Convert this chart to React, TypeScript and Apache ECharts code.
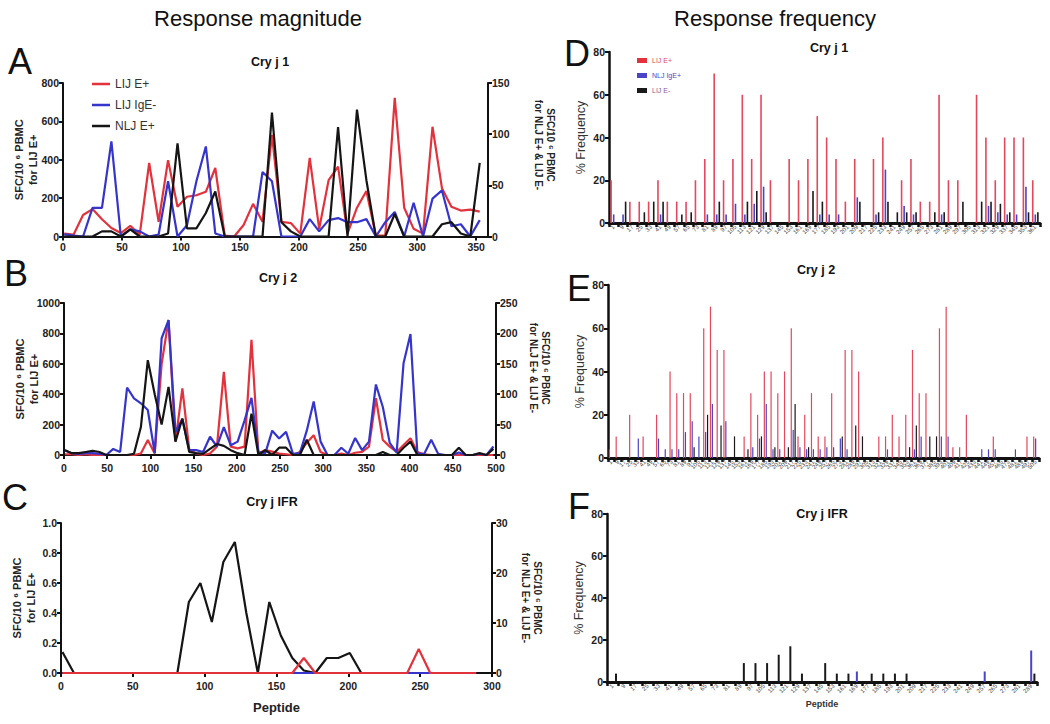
import React, { useEffect, useRef } from "react";
import * as echarts from "echarts";

const FONT = "'Liberation Sans', Arial, Helvetica, sans-serif";
const RED = "#e2323c";
const BLUE = "#3535cc";
const BLACK = "#151515";
const BAR_RED = "#e2485e";
const BAR_BLUE = "#4a44c8";
const BAR_BLACK = "#1a1a1a";

// ---------- Panel A (Cry j 1 magnitude) ----------
const pepA = [1, 9, 17, 25, 33, 41, 49, 57, 65, 73, 81, 89, 97, 105, 113, 121, 129, 137, 145, 153, 161, 169, 177, 185, 193, 201, 209, 217, 225, 233, 241, 249, 257, 265, 273, 281, 289, 297, 305, 313, 321, 329, 337, 345, 353];
const aLijE = [15, 10, 112, 143, 90, 44, 18, 56, 10, 383, 77, 398, 155, 207, 215, 233, 357, 5, 0, 60, 170, 77, 530, 77, 70, 15, 410, 40, 294, 364, 15, 150, 237, 5, 5, 723, 150, 40, 15, 572, 252, 155, 135, 140, 130];
const aLijIgE = [2, 1, 0, 28, 28, 93, 0, 7, 5, 0, 2, 54, 0, 11, 54, 88, 3, 0, 0, 0, 0, 63, 54, 0, 0, 0, 17, 5, 16, 18, 14, 14, 17, 0, 14, 24, 0, 33, 0, 37, 45, 10, 12, 0, 16];
const aNljE = [0, 0, 0, 0, 5, 5, 0, 7, 0, 0, 0, 3, 91, 8, 8, 23, 44, 0, 0, 0, 0, 0, 121, 14, 5, 0, 0, 0, 0, 107, 0, 124, 55, 0, 0, 22, 0, 0, 0, 0, 12, 14, 3, 0, 72];

// ---------- Panel B (Cry j 2 magnitude) ----------
const pepB = [1, 9, 17, 25, 33, 41, 49, 57, 65, 73, 81, 89, 97, 105, 113, 121, 129, 137, 145, 153, 161, 169, 177, 185, 193, 201, 209, 217, 225, 233, 241, 249, 257, 265, 273, 281, 289, 297, 305, 313, 321, 329, 337, 345, 353, 361, 369, 377, 385, 393, 401, 409, 417, 425, 433, 441, 449, 457, 465, 473, 481, 489, 497];
const bLijE = [5, 5, 0, 5, 0, 0, 0, 0, 0, 0, 0, 10, 99, 10, 600, 888, 88, 439, 33, 10, 0, 10, 55, 547, 55, 44, 55, 757, 10, 33, 22, 10, 5, 0, 20, 80, 130, 20, 0, 0, 10, 0, 15, 20, 55, 373, 99, 55, 20, 66, 110, 20, 5, 0, 0, 0, 0, 0, 0, 0, 0, 0, 0];
const bLijIgE = [8, 3, 2, 3, 3, 2, 0, 10, 5, 111, 93, 85, 74, 3, 192, 222, 38, 59, 8, 8, 5, 30, 14, 46, 16, 22, 57, 94, 5, 3, 40, 27, 38, 2, 3, 40, 88, 22, 0, 0, 12, 2, 28, 8, 22, 116, 79, 20, 4, 151, 199, 2, 2, 25, 2, 0, 0, 4, 0, 0, 2, 0, 14];
const bNljE = [8, 3, 3, 5, 7, 5, 0, 0, 0, 0, 2, 46, 156, 100, 50, 112, 22, 60, 5, 3, 2, 10, 18, 15, 8, 3, 0, 68, 0, 8, 0, 12, 12, 0, 0, 25, 0, 0, 0, 0, 0, 0, 0, 0, 0, 0, 5, 0, 0, 12, 22, 0, 0, 0, 0, 0, 0, 12, 0, 0, 3, 0, 10];

// ---------- Panel C (Cry j IFR magnitude) ----------
const pepC = [1, 9, 17, 25, 33, 41, 49, 57, 65, 73, 81, 89, 97, 105, 113, 121, 129, 137, 145, 153, 161, 169, 177, 185, 193, 201, 209, 217, 225, 233, 241, 249, 257, 265, 273, 281, 289];
const cLijE = [0, 0, 0, 0, 0, 0, 0, 0, 0, 0, 0, 0, 0, 0, 0, 0, 0, 0, 0, 0, 0, 0.1, 0, 0, 0, 0, 0, 0, 0, 0, 0, 0.16, 0, 0, 0, 0, 0];
const cLijIgE = [0, 0, 0, 0, 0, 0, 0, 0, 0, 0, 0, 0, 0, 0, 0, 0, 0, 0, 0, 0, 0, 0, 0, 0, 0, 0, 0, 0, 0, 0, 0, 0, 0, 0, 0, 0, 0];
const cNljE = [4.2, 0, 0, 0, 0, 0, 0, 0, 0, 0, 0, 14.2, 18, 10.2, 22.2, 26.2, 12, 0, 14.2, 7.5, 3, 0.5, 0, 3, 3, 4, 0, 0, 0, 0, 0, 0, 0, 0, 0, 0, 0];

// ---------- Panel D (Cry j 1 frequency) ----------
const catD = ["1", "9", "17", "25", "33", "41", "49", "57", "65", "73", "81", "89", "97", "105", "113", "121", "129", "137", "145", "153", "161", "169", "177", "185", "193", "201", "209", "217", "225", "233", "241", "249", "257", "265", "273", "281", "289", "297", "305", "313", "321", "329", "337", "345", "353", "361"];
const dLijE = [20, 0, 10, 10, 10, 20, 10, 10, 10, 20, 30, 70, 20, 30, 60, 30, 60, 20, 0, 30, 20, 30, 50, 40, 30, 10, 30, 0, 30, 40, 0, 20, 30, 10, 10, 60, 20, 20, 0, 60, 40, 20, 40, 40, 40, 20];
const dNljIgE = [4, 4, 0, 0, 0, 4, 0, 0, 0, 0, 4, 4, 4, 9, 4, 9, 17, 0, 0, 0, 0, 0, 4, 4, 4, 0, 12, 0, 4, 25, 0, 8, 4, 0, 0, 4, 0, 0, 0, 0, 8, 5, 4, 4, 17, 4];
const dLijEneg = [0, 10, 0, 5, 10, 10, 0, 4, 5, 0, 0, 10, 0, 0, 10, 15, 5, 0, 0, 0, 0, 15, 10, 0, 0, 0, 10, 0, 5, 10, 5, 5, 5, 0, 5, 5, 0, 10, 0, 10, 10, 9, 5, 0, 5, 5];

// ---------- Panel E (Cry j 2 frequency) ----------
const catE = ["1", "9", "17", "25", "33", "41", "49", "57", "65", "73", "81", "89", "97", "105", "113", "121", "129", "137", "145", "153", "161", "169", "177", "185", "193", "201", "209", "217", "225", "233", "241", "249", "257", "265", "273", "281", "289", "297", "305", "313", "321", "329", "337", "345", "353", "361", "369", "377", "385", "393", "401", "409", "417", "425", "433", "441", "449", "457", "465", "473", "481", "489", "497", "505"];
const eLijE = [4, 10, 0, 20, 0, 10, 0, 20, 0, 40, 30, 30, 30, 0, 60, 70, 50, 50, 0, 0, 10, 30, 20, 40, 40, 30, 40, 60, 10, 20, 30, 10, 10, 30, 0, 50, 50, 40, 0, 0, 10, 10, 20, 10, 20, 50, 30, 30, 0, 60, 70, 5, 5, 20, 0, 0, 0, 10, 0, 0, 0, 0, 10, 10];
const eNljIgE = [0, 0, 0, 0, 9, 0, 0, 9, 4, 4, 4, 12, 17, 10, 12, 25, 0, 17, 0, 0, 0, 5, 9, 25, 4, 4, 0, 13, 5, 4, 4, 4, 5, 5, 9, 4, 0, 0, 0, 0, 0, 4, 0, 0, 0, 4, 10, 0, 0, 10, 10, 0, 0, 0, 0, 4, 4, 4, 0, 0, 4, 0, 0, 9];
const eLijEneg = [0, 0, 0, 0, 0, 0, 0, 0, 0, 0, 0, 0, 5, 0, 20, 0, 15, 0, 10, 0, 4, 0, 10, 0, 5, 0, 5, 25, 0, 5, 0, 0, 0, 0, 10, 0, 15, 10, 0, 0, 0, 0, 0, 0, 5, 15, 0, 10, 10, 0, 0, 0, 0, 0, 0, 0, 0, 0, 0, 0, 0, 0, 0, 0];

// ---------- Panel F (Cry j IFR frequency) ----------
const catF = ["1", "9", "17", "25", "33", "41", "49", "57", "65", "73", "81", "89", "97", "105", "113", "121", "129", "137", "145", "153", "161", "169", "177", "185", "193", "201", "209", "217", "225", "233", "241", "249", "257", "265", "273", "281", "289"];
const fLijE = [0, 0, 0, 0, 0, 0, 0, 0, 0, 0, 0, 0, 0, 0, 0, 0, 0, 0, 0, 0, 0, 0, 0, 0, 0, 0, 0, 0, 0, 0, 0, 0, 0, 0, 0, 0, 0];
const fNljIgE = [0, 0, 0, 0, 0, 0, 0, 0, 0, 0, 0, 0, 0, 0, 0, 0, 0, 0, 0, 0, 0, 5, 0, 0, 0, 0, 0, 0, 0, 0, 0, 0, 5, 0, 0, 0, 15];
const fLijEneg = [4, 0, 0, 0, 0, 0, 0, 0, 0, 0, 0, 9, 9, 9, 13, 17, 4, 0, 9, 4, 4, 0, 4, 4, 4, 4, 0, 0, 0, 0, 0, 0, 0, 0, 0, 0, 4];

const LEFT_NAME = "SFC/10 \u2076 PBMC\nfor LIJ E+";
const RIGHT_NAME = "SFC/10 \u2076 PBMC\nfor NLJ E+ & LIJ E-";

const axisLine = { show: true, lineStyle: { color: "#111", width: 2 } };
const axisTick = { show: true, length: 4, lineStyle: { color: "#111", width: 2 } };
const tickLabel = { color: "#222", fontFamily: FONT, fontWeight: "bold", fontSize: 10.5, margin: 4 };

function xVal(grid: number, max: number, withName: boolean, margin: number) {
  return {
    type: "value",
    gridIndex: grid,
    min: 0,
    max,
    interval: 50,
    axisLine,
    axisTick,
    splitLine: { show: false },
    axisLabel: { ...tickLabel, margin, showMaxLabel: max % 50 === 0, formatter: (v: number) => String(v) },
    name: withName ? "Peptide" : "",
    nameLocation: "middle",
    nameGap: 28,
    nameMoveOverlap: false,
    nameTextStyle: { fontFamily: FONT, fontWeight: "bold", fontSize: 13, color: "#222" },
  };
}

function yVal(grid: number, max: number, interval: number, right: boolean, fmt?: (v: number) => string) {
  return {
    type: "value",
    gridIndex: grid,
    position: right ? "right" : "left",
    min: 0,
    max,
    interval,
    axisLine,
    axisTick,
    splitLine: { show: false },
    axisLabel: { ...tickLabel, formatter: fmt ? fmt : (v: number) => String(v) },
    name: right ? "" : LEFT_NAME,
    nameLocation: "middle",
    nameRotate: 90,
    nameGap: 23,
    nameMoveOverlap: false,
    nameTextStyle: { fontFamily: FONT, fontWeight: "bold", fontSize: 11, color: "#222", lineHeight: 14 },
  };
}

function xCat(grid: number, data: string[], withName: boolean) {
  return {
    type: "category",
    gridIndex: grid,
    data,
    boundaryGap: true,
    axisLine: { show: true, lineStyle: { color: "#111", width: 3 } },
    axisTick: { show: true, interval: 0, length: 4, lineStyle: { color: "#111", width: 2.5 } },
    axisLabel: { interval: 0, rotate: 45, fontSize: 6, color: "#444", fontFamily: FONT, margin: 3, hideOverlap: false },
    name: withName ? "Peptide" : "",
    nameLocation: "middle",
    nameGap: 17,
    nameMoveOverlap: false,
    nameTextStyle: { fontFamily: FONT, fontWeight: "bold", fontSize: 9, color: "#333" },
  };
}

function yFreq(grid: number) {
  return {
    type: "value",
    gridIndex: grid,
    min: 0,
    max: 80,
    interval: 20,
    axisLine: { show: true, lineStyle: { color: "#111", width: 2.5 } },
    axisTick,
    splitLine: { show: false },
    axisLabel: tickLabel,
    name: "% Frequency",
    nameLocation: "middle",
    nameRotate: 90,
    nameGap: 22,
    nameTextStyle: { fontFamily: FONT, fontSize: 12.5, color: "#333" },
  };
}

function line(name: string, color: string, x: number[], y: number[], xi: number, yi: number) {
  return {
    type: "line",
    name,
    xAxisIndex: xi,
    yAxisIndex: yi,
    data: x.map((p, i) => [p, y[i]]),
    symbol: "none",
    lineStyle: { color, width: 2.2 },
    itemStyle: { color },
    clip: true,
  };
}

function bar(name: string, color: string, y: number[], xi: number, yi: number, w: number) {
  return {
    type: "bar",
    name,
    xAxisIndex: xi,
    yAxisIndex: yi,
    data: y,
    barWidth: w,
    barGap: "60%",
    itemStyle: { color },
  };
}

function txt(text: string, x: number, y: number, font: string, rotation = 0, fill = "#111", lineHeight = 14) {
  return {
    type: "text",
    x,
    y,
    rotation,
    style: {
      text,
      font,
      fill,
      textAlign: "center",
      textVerticalAlign: "middle",
      align: "center",
      verticalAlign: "middle",
      lineHeight,
    },
  };
}

const option = {
  animation: false,
  backgroundColor: "#ffffff",
  textStyle: { fontFamily: FONT },
  grid: [
    { left: 63, top: 83, width: 425, height: 153.5, outerBoundsMode: "none" },
    { left: 64, top: 303, width: 432, height: 152, outerBoundsMode: "none" },
    { left: 61, top: 523, width: 431, height: 150, outerBoundsMode: "none" },
    { left: 609, top: 52, width: 431, height: 171, outerBoundsMode: "none" },
    { left: 608, top: 285, width: 431, height: 173, outerBoundsMode: "none" },
    { left: 607, top: 514, width: 430, height: 168, outerBoundsMode: "none" },
  ],
  xAxis: [
    xVal(0, 360, false, 5),
    xVal(1, 500, false, 7),
    xVal(2, 300, true, 7),
    xCat(3, catD, false),
    xCat(4, catE, false),
    xCat(5, catF, true),
  ],
  yAxis: [
    yVal(0, 800, 200, false),
    yVal(0, 150, 50, true),
    yVal(1, 1000, 200, false),
    yVal(1, 250, 50, true),
    yVal(2, 1, 0.2, false, (v: number) => v.toFixed(1)),
    yVal(2, 30, 10, true),
    yFreq(3),
    yFreq(4),
    yFreq(5),
  ],
  legend: [
    {
      data: [
        { name: "LIJ E+", icon: "rect" },
        { name: "LIJ IgE-", icon: "rect" },
        { name: "NLJ E+", icon: "rect" },
      ],
      orient: "vertical",
      left: 87,
      top: 72,
      itemWidth: 18,
      itemHeight: 2.5,
      itemGap: 7,
      textStyle: { fontFamily: FONT, fontSize: 12, color: "#333", lineHeight: 14 },
    },
    {
      data: [
        { name: "LIJ E+", icon: "rect", textStyle: { color: BAR_RED } },
        { name: "NLJ IgE+", icon: "rect", textStyle: { color: BAR_BLUE } },
        { name: "LIJ E-", icon: "rect", textStyle: { color: "#8a5a9a" } },
      ],
      orient: "vertical",
      left: 632,
      top: 52,
      itemWidth: 10,
      itemHeight: 5,
      itemGap: 8,
      textStyle: { fontFamily: FONT, fontSize: 7 },
    },
  ],
  series: [
    line("LIJ E+", RED, pepA, aLijE, 0, 0),
    line("LIJ IgE-", BLUE, pepA, aLijIgE, 0, 1),
    line("NLJ E+", BLACK, pepA, aNljE, 0, 1),
    line("LIJ E+", RED, pepB, bLijE, 1, 2),
    line("LIJ IgE-", BLUE, pepB, bLijIgE, 1, 3),
    line("NLJ E+", BLACK, pepB, bNljE, 1, 3),
    line("NLJ E+", BLACK, pepC, cNljE, 2, 5),
    line("LIJ IgE-", BLUE, pepC, cLijIgE, 2, 5),
    line("LIJ E+", RED, pepC, cLijE, 2, 4),
    bar("LIJ E+", BAR_RED, dLijE, 3, 6, 1.6),
    bar("NLJ IgE+", BAR_BLUE, dNljIgE, 3, 6, 1.6),
    bar("LIJ E-", BAR_BLACK, dLijEneg, 3, 6, 1.6),
    bar("LIJ E+", BAR_RED, eLijE, 4, 7, 1.2),
    bar("NLJ IgE+", BAR_BLUE, eNljIgE, 4, 7, 1.2),
    bar("LIJ E-", BAR_BLACK, eLijEneg, 4, 7, 1.2),
    bar("LIJ E+", BAR_RED, fLijE, 5, 8, 2),
    bar("NLJ IgE+", BAR_BLUE, fNljIgE, 5, 8, 2),
    bar("LIJ E-", BAR_BLACK, fLijEneg, 5, 8, 2),
  ],
  graphic: [
    txt("Response magnitude", 258, 18, `22px ${FONT}`),
    txt("Response frequency", 775, 18, `22px ${FONT}`),
    txt("Cry j 1", 270, 62, `bold 12.5px ${FONT}`),
    txt("Cry j 2", 278, 278, `bold 12.5px ${FONT}`),
    txt("Cry j IFR", 272, 502, `bold 12.5px ${FONT}`),
    txt("Cry j 1", 829, 48, `bold 12.5px ${FONT}`),
    txt("Cry j 2", 816, 270, `bold 12.5px ${FONT}`),
    txt("Cry j IFR", 822, 514, `bold 12.5px ${FONT}`),
    txt("A", 20, 61, `36px ${FONT}`),
    txt("B", 16, 273, `36px ${FONT}`),
    txt("C", 15, 497, `36px ${FONT}`),
    txt("D", 577, 53, `36px ${FONT}`),
    txt("E", 579, 288, `36px ${FONT}`),
    txt("F", 579, 506, `36px ${FONT}`),
    txt(RIGHT_NAME, 544, 145, `bold 10px ${FONT}`, -Math.PI / 2, "#222", 12),
    txt(RIGHT_NAME, 539, 368, `bold 10px ${FONT}`, -Math.PI / 2, "#222", 12),
    txt(RIGHT_NAME, 531, 598, `bold 10px ${FONT}`, -Math.PI / 2, "#222", 12),
  ],
};

export default function App() {
  const ref = useRef<HTMLDivElement>(null);
  useEffect(() => {
    const chart = echarts.init(ref.current as HTMLDivElement, null, { renderer: "svg" });
    chart.setOption(option as any);
    return () => chart.dispose();
  }, []);
  return (
    <div
      ref={ref}
      style={{ position: "absolute", left: 0, top: 0, width: 1050, height: 724, background: "#fff" }}
    />
  );
}
